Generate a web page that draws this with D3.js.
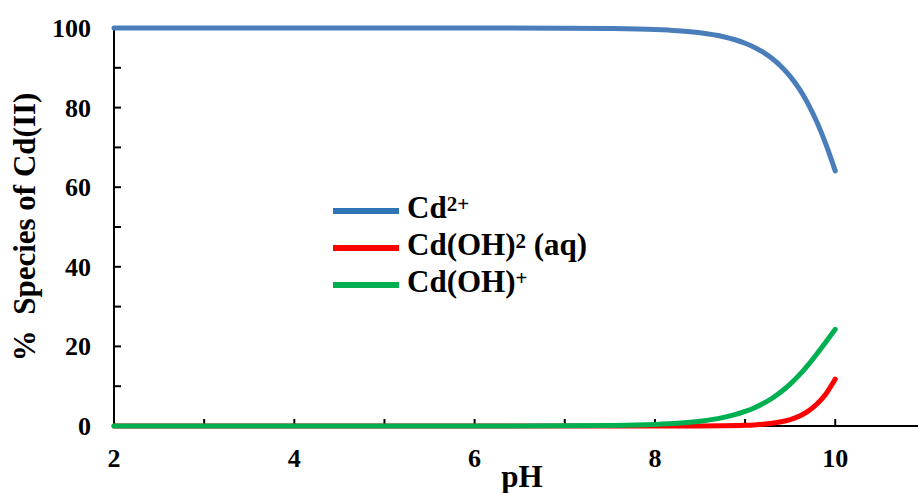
<!DOCTYPE html>
<html>
<head>
<meta charset="utf-8">
<script src="https://cdn.jsdelivr.net/npm/d3@7"></script>
<style>
  body { margin: 0; background: #fff; }
  svg text { font-family: "Liberation Serif", "Times New Roman", serif; font-weight: bold; fill: #000; }
</style>
</head>
<body>
<svg></svg>
<script>
let width = 918, height = 493

// values
let pH    = [2, 3, 4, 5, 6, 7, 7.5, 8, 8.25, 8.5, 8.75, 9, 9.1, 9.2, 9.3, 9.4, 9.5, 9.6, 9.7, 9.8, 9.9, 10]
let cd    = [100, 100, 100, 100, 100, 99.96, 99.88, 99.62, 99.32, 98.8, 97.86, 96.18, 95.18, 93.92, 92.34, 90.35, 87.85, 84.74, 80.89, 76.2, 70.57, 64.1]
let cdOH2 = [0, 0, 0, 0, 0, 0, 0, 0, 0.01, 0.02, 0.06, 0.18, 0.28, 0.43, 0.68, 1.05, 1.62, 2.47, 3.74, 5.58, 8.19, 11.8]
let cdOH  = [0, 0, 0, 0, 0, 0.04, 0.12, 0.38, 0.67, 1.18, 2.09, 3.65, 4.54, 5.64, 6.98, 8.6, 10.53, 12.79, 15.37, 18.22, 21.24, 24.3]

let xTicks = [2, 4, 6, 8, 10]
let yTicks = [0, 20, 40, 60, 80, 100]

let series = [
    {name: 'cd', values: cd, color: '#4a7ebb', legend: '#2e75b6'},
    {name: 'cdOH2', values: cdOH2, color: '#ff0000', legend: '#ff0000'},
    {name: 'cdOH', values: cdOH, color: '#00b050', legend: '#00b050'},
]

let svg = d3.select("svg").attr("width", width).attr("height", height)

let x = d3.scaleLinear().domain([2, 11]).range([114, 925.4])
let y = d3.scaleLinear().domain([0, 100]).range([426, 28])

// axes
svg.append("line").attr("x1", 114).attr("x2", width).attr("y1", y(0)).attr("y2", y(0))
    .attr("stroke", "#000").attr("stroke-width", 2)
svg.append("line").attr("x1", 114).attr("x2", 114).attr("y1", y(0)).attr("y2", y(100))
    .attr("stroke", "#000").attr("stroke-width", 2)

svg.selectAll(".ytick").data(d3.range(10, 100, 10)).enter().append("line")
    .attr("x1", 114).attr("x2", 121).attr("y1", d => y(d)).attr("y2", d => y(d))
    .attr("stroke", "#000").attr("stroke-width", 2)
svg.selectAll(".xtick").data(d3.range(3, 11, 1)).enter().append("line")
    .attr("x1", d => x(d)).attr("x2", d => x(d)).attr("y1", y(0)).attr("y2", y(0) - 7)
    .attr("stroke", "#000").attr("stroke-width", 2)

svg.selectAll(".ylab").data(yTicks).enter().append("text")
    .attr("x", 91).attr("y", d => y(d) + 9).attr("text-anchor", "end")
    .style("font-size", "26px").text(d => d)
svg.selectAll(".xlab").data(xTicks).enter().append("text")
    .attr("x", d => x(d)).attr("y", 467).attr("text-anchor", "middle")
    .style("font-size", "26px").text(d => d)

svg.append("text").attr("x", 522).attr("y", 487).attr("text-anchor", "middle")
    .style("font-size", "31px").text("pH")
svg.append("text").attr("transform", "translate(35,227) rotate(-90)").attr("text-anchor", "middle")
    .style("font-size", "31px").style("white-space", "pre").text("%  Species of Cd(II)")

// curves
let line = d3.line().x((d, i) => x(pH[i])).y(d => y(d)).curve(d3.curveMonotoneX)
series.forEach(s => {
    svg.append("path").attr("d", line(s.values)).attr("fill", "none")
        .attr("stroke", s.color).attr("stroke-width", 5).attr("stroke-linecap", "round")
})

// legend
let legendRows = [
    {color: series[0].legend, parts: [['Cd', 0], ['2+', 1]]},
    {color: series[1].legend, parts: [['Cd(OH)', 0], ['2', 1], [' (aq)', 0]]},
    {color: series[2].legend, parts: [['Cd(OH)', 0], ['+', 1]]},
]
legendRows.forEach((r, i) => {
    let ly = 211 + i * 37
    svg.append("line").attr("x1", 333).attr("x2", 399).attr("y1", ly).attr("y2", ly)
        .attr("stroke", r.color).attr("stroke-width", 6)
    let t = svg.append("text").attr("x", 407).attr("y", ly + 7).style("font-size", "31px")
        .style("white-space", "pre")
    r.parts.forEach((p, j) => {
        let ts = t.append("tspan").text(p[0])
        if (p[1]) ts.style("font-size", "21px").attr("dy", -7)
        else if (j > 0 && r.parts[j - 1][1]) ts.attr("dy", 7)
    })
})
</script>
</body>
</html>
